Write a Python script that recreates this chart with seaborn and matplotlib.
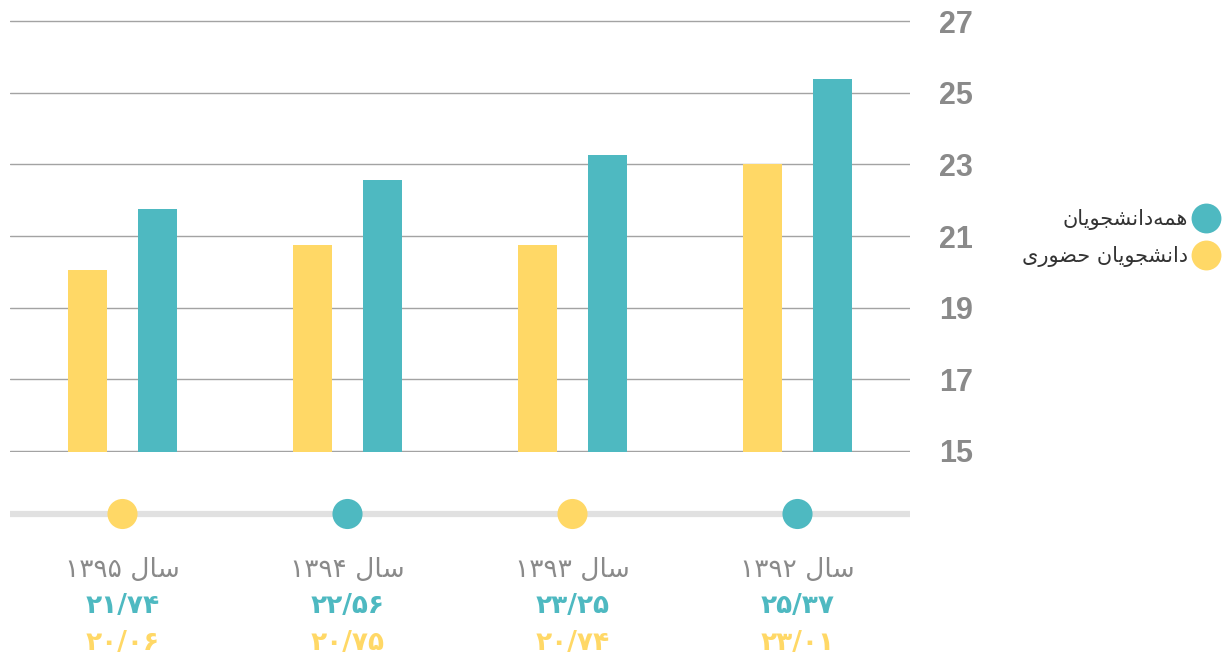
import matplotlib
matplotlib.use("Agg")
import matplotlib.pyplot as plt
from matplotlib.lines import Line2D
import numpy as np
import pandas as pd
import seaborn as sns

# ---------------- data (display order, left to right) ----------------
years = ["۱۳۹۵", "۱۳۹۴", "۱۳۹۳", "۱۳۹۲"]
all_students = [21.74, 22.56, 23.25, 25.37]
inperson_students = [20.06, 20.75, 20.74, 23.01]
series_all = "همه\u200cدانشجویان"
series_inperson = "دانشجویان حضوری"
year_prefix = "سال"
yticks = [15, 17, 19, 21, 23, 25, 27]
timeline_dot_series = [series_inperson, series_all, series_inperson, series_all]

TEAL = "#4EB9C1"
YELLOW = "#FFD866"
GRAY_TXT = "#8A8A8A"
palette = {series_inperson: YELLOW, series_all: TEAL}

# ---------------- minimal Persian shaping + visual ordering ----------------
FORMS = {
    "ا": ("\uFE8D", "\uFE8E", None, None),
    "د": ("\uFEA9", "\uFEAA", None, None),
    "ر": ("\uFEAD", "\uFEAE", None, None),
    "و": ("\uFEED", "\uFEEE", None, None),
    "ه": ("\uFEE9", "\uFEEA", "\uFEEB", "\uFEEC"),
    "م": ("\uFEE1", "\uFEE2", "\uFEE3", "\uFEE4"),
    "ن": ("\uFEE5", "\uFEE6", "\uFEE7", "\uFEE8"),
    "ش": ("\uFEB5", "\uFEB6", "\uFEB7", "\uFEB8"),
    "ج": ("\uFE9D", "\uFE9E", "\uFE9F", "\uFEA0"),
    "ح": ("\uFEA1", "\uFEA2", "\uFEA3", "\uFEA4"),
    "ض": ("\uFEBD", "\uFEBE", "\uFEBF", "\uFEC0"),
    "س": ("\uFEB1", "\uFEB2", "\uFEB3", "\uFEB4"),
    "ل": ("\uFEDD", "\uFEDE", "\uFEDF", "\uFEE0"),
    "ی": ("\uFEEF", "\uFEF0", "\uFEF3", "\uFEF4"),
}


def _shape_word(w):
    out = []
    for i, c in enumerate(w):
        if c == "\u200c":
            continue
        if c not in FORMS:
            out.append(c)
            continue
        f = FORMS[c]
        prev = w[i - 1] if i > 0 else ""
        nxt = w[i + 1] if i + 1 < len(w) else ""
        jp = prev in FORMS and FORMS[prev][2] is not None
        jn = nxt in FORMS and f[2] is not None
        if jp and jn:
            out.append(f[3])
        elif jp:
            out.append(f[1])
        elif jn:
            out.append(f[2])
        else:
            out.append(f[0])
    return out


def fa(s):
    words = s.split(" ")
    vis = []
    for w in reversed(words):
        if any(c in FORMS for c in w):
            vis.append("".join(reversed(_shape_word(w))))
        else:
            vis.append(w)
    return " ".join(vis)


FA_DIGITS = str.maketrans("0123456789", "۰۱۲۳۴۵۶۷۸۹")


def fa_num(v):
    return f"{v:.2f}".replace(".", "/").translate(FA_DIGITS)


# ---------------- figure ----------------
sns.set_theme(style="white")
plt.rcParams["font.family"] = ["DejaVu Sans"]

W, H = 1222, 658
fig = plt.figure(figsize=(W / 100, H / 100), dpi=100)
fig.patch.set_facecolor("white")

ax = fig.add_axes([10 / W, 1 - 452 / H, 900 / W, 432 / H])

df = pd.DataFrame({
    "year": years * 2,
    "series": [series_inperson] * len(years) + [series_all] * len(years),
    "value": inperson_students + all_students,
})

sns.barplot(data=df, x="year", y="value", hue="series", order=years,
            hue_order=[series_inperson, series_all], palette=palette,
            width=0.62, gap=0.45, legend=False, ax=ax, saturation=1,
            edgecolor="none")

ax.set_ylim(14.97, 27.03)
ax.set_xlim(-0.5, len(years) - 0.5)
ax.set_yticks(yticks)
ax.set_yticklabels([str(t) for t in yticks], fontfamily="Liberation Sans",
                   fontweight="bold", fontsize=22, color=GRAY_TXT)
ax.yaxis.tick_right()
ax.tick_params(axis="y", length=0, pad=21)
ax.set_xticks([])
ax.set_xlabel("")
ax.set_ylabel("")
ax.grid(axis="y", color="#A3A3A3", linewidth=1)
ax.set_axisbelow(True)
for sp in ax.spines.values():
    sp.set_visible(False)
ax.set_facecolor("none")

# ---------------- timeline with labels ----------------
ax2 = fig.add_axes([10 / W, 0, 900 / W, 200 / H])
xs = np.arange(len(years))
ax2.axhline(514, color="#E1E1E1", linewidth=4.5, zorder=1)
sns.scatterplot(x=xs, y=[514] * len(years), hue=timeline_dot_series,
                palette=palette, s=470, edgecolor="none", legend=False,
                ax=ax2, zorder=3)
ax2.set_xlim(-0.5, len(years) - 0.5)
ax2.set_ylim(H, H - 200)
ax2.axis("off")
for i, y in enumerate(years):
    ax2.text(i, 570, fa(f"{year_prefix} {y}"), ha="center", va="center",
             fontsize=19, color=GRAY_TXT)
    ax2.text(i, 606, fa_num(all_students[i]), ha="center", va="center",
             fontsize=19, fontweight="bold", color=TEAL)
    ax2.text(i, 643, fa_num(inperson_students[i]), ha="center", va="center",
             fontsize=19, fontweight="bold", color=YELLOW)

# ---------------- legend ----------------
handles = [
    Line2D([], [], marker="o", linestyle="none", markersize=21.5,
           markerfacecolor=TEAL, markeredgecolor="none", label=fa(series_all)),
    Line2D([], [], marker="o", linestyle="none", markersize=21.5,
           markerfacecolor=YELLOW, markeredgecolor="none", label=fa(series_inperson)),
]
fig.legend(handles=handles, loc="center right",
           bbox_to_anchor=(1216 / W, 1 - 238 / H), frameon=False,
           markerfirst=False, handlelength=1.0, handletextpad=0.35,
           labelspacing=0.75, borderpad=0, borderaxespad=0,
           prop={"family": "DejaVu Sans", "size": 15}, labelcolor="#333333")

fig.savefig("out.png", dpi=100, facecolor="white")
